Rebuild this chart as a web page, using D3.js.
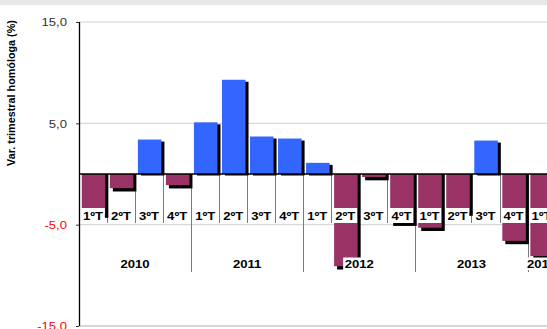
<!DOCTYPE html>
<html>
<head>
<meta charset="utf-8">
<script src="https://cdnjs.cloudflare.com/ajax/libs/d3/7.8.5/d3.min.js"></script>
<style>
  html, body { margin: 0; padding: 0; background: #fff; }
  svg { display: block; }
  text { font-family: "Liberation Sans", Arial, sans-serif; }
</style>
</head>
<body>
<svg id="chart" width="547" height="329"></svg>
<script>
// Quarterly year-on-year variation (%), 2010 – 2014
const years = ["2010", "2011", "2012", "2013", "2014"];
const quartersPerYear = [4, 4, 4, 4, 1];
const quarterLabels = ["1ºT", "2ºT", "3ºT", "4ºT"];
const values = [
  -4.0, -1.4, 3.4, -1.1,   // 2010
   5.1,  9.3, 3.7,  3.5,   // 2011
   1.1, -9.1, -0.3, -4.8,  // 2012
  -5.3, -3.8, 3.3, -6.6,   // 2013
  -8.1                     // 2014
];
const yTicks = [15, 5, -5, -15];
const yTitle = "Var. trimestral homóloga (%)";

// Category rows built from the year / quarter lists
const cats = [];
years.forEach((yr, yi) => {
  for (let q = 0; q < quartersPerYear[yi]; q++) {
    cats.push({ key: yr + "-" + (q + 1), year: yr, quarter: quarterLabels[q] });
  }
});
cats.forEach((c, i) => { c.value = values[i]; });

const svg = d3.select("#chart");
const SX = 1.19;               // horizontal glyph stretch
const step = 28.1;
const x0 = 79;

const x = d3.scaleBand()
  .domain(cats.map(c => c.key))
  .range([x0, x0 + cats.length * step])
  .paddingInner(0.16)
  .paddingOuter(0.1);
const boundary = i => x.range()[0] + i * x.step();

const y = d3.scaleLinear().domain([-15, 15]).range([326, 22]);
// decimal comma, plain hyphen for negatives
const fmt = v => d3.format(".1f")(v).replace(".", ",").replace("\u2212", "-");

// top band
svg.append("rect").attr("x", 0).attr("y", 0).attr("width", 547).attr("height", 5).attr("fill", "#e8e8e8");

// gridlines
svg.append("g").selectAll("line").data(yTicks).join("line")
  .attr("x1", x0).attr("x2", 547)
  .attr("y1", d => y(d)).attr("y2", d => y(d))
  .attr("stroke", d => d === -15 ? "#d6d6d6" : "#cfcfcf")
  .attr("stroke-width", d => d === -15 ? 2 : 1);

// category separators: quarter ticks and longer year ticks
const yearStarts = new Set();
{
  let acc = 0;
  quartersPerYear.forEach(n => { acc += n; yearStarts.add(acc); });
}
const sepIdx = d3.range(1, cats.length + 1);
svg.append("g").selectAll("line").data(sepIdx).join("line")
  .attr("x1", d => Math.round(boundary(d)) + 0.5)
  .attr("x2", d => Math.round(boundary(d)) + 0.5)
  .attr("y1", y(0))
  .attr("y2", d => yearStarts.has(d) ? 272 : 223)
  .attr("stroke", "#7a7a7a").attr("stroke-width", 1);

// bar shadows
svg.append("g").selectAll("rect").data(cats).join("rect")
  .attr("x", d => x(d.key) + 3)
  .attr("y", d => (d.value >= 0 ? y(d.value) + 2 : y(0)))
  .attr("width", x.bandwidth())
  .attr("height", d => Math.abs(y(d.value) - y(0)) + (d.value >= 0 ? -0.5 : 3.3))
  .attr("fill", "#000");

// bars
svg.append("g").selectAll("rect").data(cats).join("rect")
  .attr("x", d => x(d.key))
  .attr("y", d => Math.min(y(d.value), y(0)))
  .attr("width", x.bandwidth())
  .attr("height", d => Math.abs(y(d.value) - y(0)))
  .attr("fill", d => d.value >= 0 ? "#3366ff" : "#993366");

// zero line
svg.append("line")
  .attr("x1", x0).attr("x2", 547).attr("y1", y(0)).attr("y2", y(0))
  .attr("stroke", "#000").attr("stroke-width", 1.4);

// stretched label with white box behind it
function boxedLabel(g, cx, baseline, str, boxTop, boxBottom) {
  const grp = g.append("g");
  const rect = grp.append("rect").attr("fill", "#fff");
  const t = grp.append("text")
    .attr("transform", `translate(${cx},${baseline}) scale(${SX},1)`)
    .attr("text-anchor", "middle")
    .attr("font-size", 11).attr("font-weight", "bold").attr("fill", "#000")
    .text(str);
  const w = t.node().getBBox().width * SX;
  rect.attr("x", cx - w / 2 - 1.5).attr("width", w + 3)
    .attr("y", boxTop).attr("height", boxBottom - boxTop);
}

const labels = svg.append("g");
cats.forEach((c, i) => {
  boxedLabel(labels, boundary(i) + x.step() / 2, 219.5, c.quarter, 208, 223);
});
{
  let acc = 0;
  years.forEach((yr, yi) => {
    const a = boundary(acc), b = boundary(acc + quartersPerYear[yi]);
    boxedLabel(labels, (a + b) / 2, 267.5, yr, 257.5, 270);
    acc += quartersPerYear[yi];
  });
}

// y axis
const yAxis = svg.append("g")
  .attr("transform", `translate(${x0},0)`)
  .call(d3.axisLeft(y).tickValues(yTicks).tickSize(3).tickFormat(fmt));
yAxis.select(".domain").attr("stroke", "#000").attr("stroke-width", 1.3)
  .attr("d", `M0.5,${y(15)}V${y(-15)}`);
yAxis.selectAll(".tick line").attr("stroke", "#333");
yAxis.selectAll(".tick text")
  .attr("x", null).attr("dy", "0.35em")
  .attr("transform", `translate(-12,0) scale(${SX},1)`)
  .attr("text-anchor", "end")
  .attr("font-family", "Liberation Sans, Arial, sans-serif")
  .attr("font-size", 11)
  .attr("fill", d => d < 0 ? "#ff0000" : "#333");

// y axis title
svg.append("text")
  .attr("transform", "translate(14.5,93) rotate(-90)")
  .attr("text-anchor", "middle")
  .attr("font-size", 10.8).attr("font-weight", "bold").attr("fill", "#000")
  .text(yTitle);
</script>
</body>
</html>
